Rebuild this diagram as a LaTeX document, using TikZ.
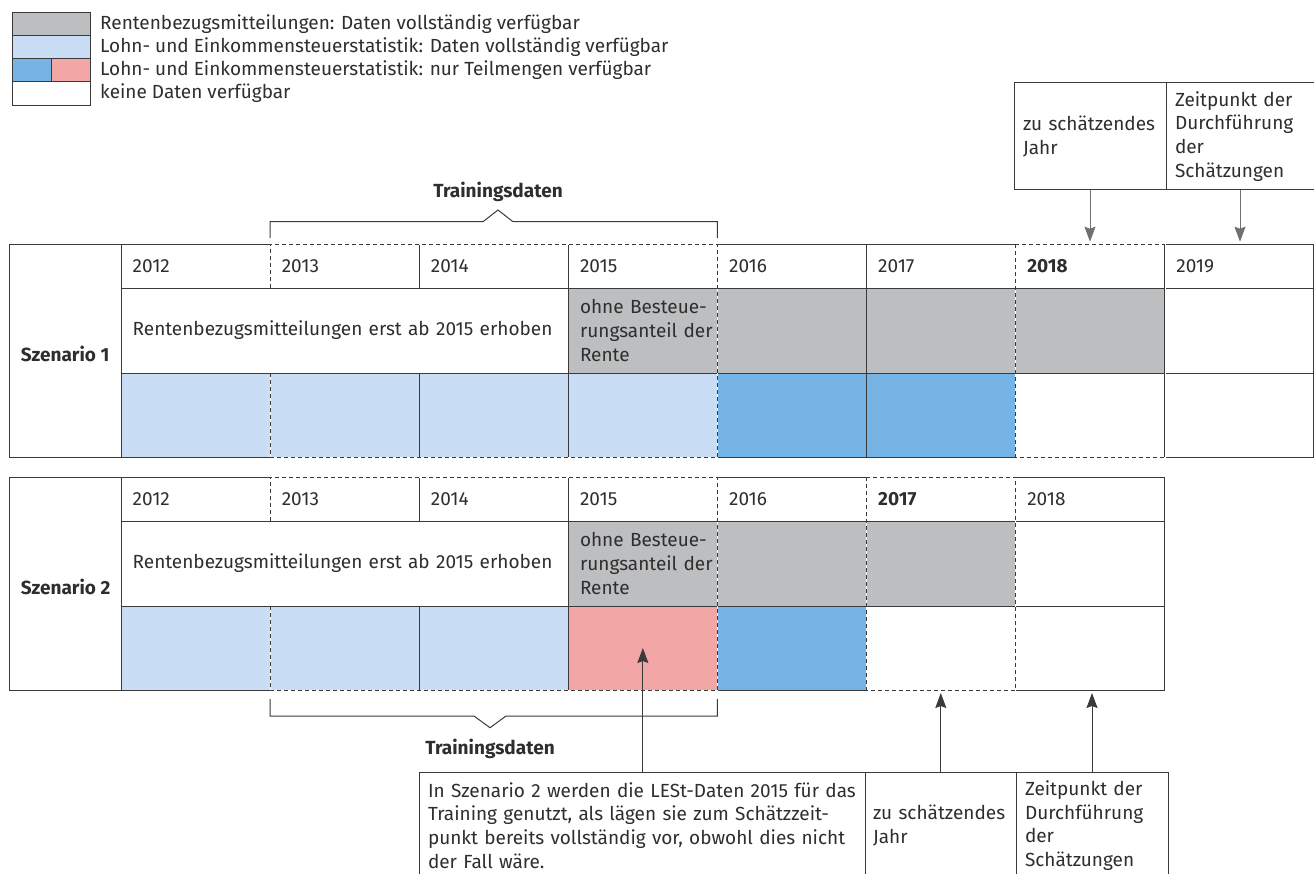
\documentclass[tikz,border=0pt]{standalone}
\usepackage{fontspec}
\setmainfont{Fira Sans}
\usetikzlibrary{arrows.meta,positioning}

\definecolor{linegray}{HTML}{3A3A3A}
\definecolor{arrowgray}{HTML}{707070}
\definecolor{textgray}{HTML}{2E2E2E}
\definecolor{rbmgray}{HTML}{BDBEC0}
\definecolor{lestlight}{HTML}{C9DDF4}
\definecolor{lestblue}{HTML}{76B4E5}
\definecolor{lestred}{HTML}{F2A6A6}

\newcommand{\diagfont}{\fontsize{19}{23.7}\selectfont}

\begin{document}
\begin{tikzpicture}[x=1pt, y=-1pt, >={Stealth[length=15pt,width=11pt,inset=2pt]},
    font=\diagfont, text=textgray,
    box/.style={draw=linegray, line width=1pt, rectangle, inner sep=0pt, outer sep=0pt},
    legbox/.style={box, minimum width=78pt, minimum height=23.25pt},
    legtext/.style={inner sep=0pt, anchor=west},
    boldtext/.style={inner sep=0pt, font=\diagfont\bfseries},
    yearcell/.style={box, minimum width=149.1pt, minimum height=44pt, text width=125.7pt, inner xsep=11.7pt, align=left},
    rowcell/.style={box, minimum width=149.1pt, minimum height=85pt, text width=125.7pt, inner xsep=11.7pt, align=left},
    lestcell/.style={box, minimum width=149.1pt, minimum height=84pt},
    namecell/.style={box, minimum width=112pt, minimum height=213pt, anchor=north west},
    annot/.style={box, minimum height=107pt, align=left},
    dashline/.style={draw=linegray, line width=1pt, dash pattern=on 4pt off 3pt, preaction={draw=white, solid}},
    brace/.style={draw=linegray, line width=1pt}]

  \useasboundingbox (0,0) rectangle (1314,873);

  % legend
  \node[legbox, fill=rbmgray, anchor=north west] (lg1) at (12,12) {};
  \node[legbox, fill=lestlight, below=0pt of lg1] (lg2) {};
  \node[legbox, fill=lestblue, minimum width=39pt, below right=0pt of lg2.south west] (lg3a) {};
  \node[legbox, fill=lestred, minimum width=39pt, right=0pt of lg3a] (lg3b) {};
  \node[legbox, below right=0pt of lg3a.south west] (lg4) {};
  \node[legtext, right=10pt of lg1] (lt1) {Rentenbezugsmitteilungen: Daten vollständig verfügbar};
  \node[legtext, right=10pt of lg2] (lt2) {Lohn- und Einkommensteuerstatistik: Daten vollständig verfügbar};
  \node[legtext, right=10pt of lg3b] (lt3) {Lohn- und Einkommensteuerstatistik: nur Teilmengen verfügbar};
  \node[legtext, right=10pt of lg4] (lt4) {keine Daten verfügbar};

  % Szenario 1
  \node[namecell] (s1lab) at (9,244) {};
  \node[boldtext, anchor=west, right=11.7pt of s1lab.west, yshift=-3pt] (s1name) {Szenario 1};
  \node[yearcell, anchor=north west] (s1y12) at (121,244) {2012};
  \node[yearcell, right=0pt of s1y12] (s1y13) {2013};
  \node[yearcell, right=0pt of s1y13] (s1y14) {2014};
  \node[yearcell, right=0pt of s1y14] (s1y15) {2015};
  \node[yearcell, right=0pt of s1y15] (s1y16) {2016};
  \node[yearcell, right=0pt of s1y16] (s1y17) {2017};
  \node[yearcell, right=0pt of s1y17] (s1y18) {\textbf{2018}};
  \node[yearcell, right=0pt of s1y18] (s1y19) {2019};
  \node[rowcell, minimum width=447.3pt, text width=423.9pt, below right=0pt of s1y12.south west] (s1r12) {Rentenbezugsmitteilungen erst ab 2015 erhoben};
  \node[rowcell, fill=rbmgray, right=0pt of s1r12] (s1r15) {\mbox{ohne Besteue-}\\\mbox{rungsanteil der}\\Rente};
  \node[rowcell, fill=rbmgray, right=0pt of s1r15] (s1r16) {};
  \node[rowcell, fill=rbmgray, right=0pt of s1r16] (s1r17) {};
  \node[rowcell, fill=rbmgray, right=0pt of s1r17] (s1r18) {};
  \node[rowcell, right=0pt of s1r18] (s1r19) {};
  \node[lestcell, fill=lestlight, below right=0pt of s1r12.south west] (s1l12) {};
  \node[lestcell, fill=lestlight, right=0pt of s1l12] (s1l13) {};
  \node[lestcell, fill=lestlight, right=0pt of s1l13] (s1l14) {};
  \node[lestcell, fill=lestlight, right=0pt of s1l14] (s1l15) {};
  \node[lestcell, fill=lestblue, right=0pt of s1l15] (s1l16) {};
  \node[lestcell, fill=lestblue, right=0pt of s1l16] (s1l17) {};
  \node[lestcell, right=0pt of s1l17] (s1l18) {};
  \node[lestcell, right=0pt of s1l18] (s1l19) {};
  \draw[dashline] (s1y13.south west) -- (s1y13.north west) -- (s1y15.north east) -- (s1l15.south east) -- (s1l13.south west) -- (s1l13.north west);
  \draw[dashline] (s1y18.north west) rectangle (s1l18.south east);

  % Szenario 2
  \node[namecell] (s2lab) at (9,477) {};
  \node[boldtext, anchor=west, right=11.7pt of s2lab.west, yshift=-3pt] (s2name) {Szenario 2};
  \node[yearcell, anchor=north west] (s2y12) at (121,477) {2012};
  \node[yearcell, right=0pt of s2y12] (s2y13) {2013};
  \node[yearcell, right=0pt of s2y13] (s2y14) {2014};
  \node[yearcell, right=0pt of s2y14] (s2y15) {2015};
  \node[yearcell, right=0pt of s2y15] (s2y16) {2016};
  \node[yearcell, right=0pt of s2y16] (s2y17) {\textbf{2017}};
  \node[yearcell, right=0pt of s2y17] (s2y18) {2018};
  \node[rowcell, minimum width=447.3pt, text width=423.9pt, below right=0pt of s2y12.south west] (s2r12) {Rentenbezugsmitteilungen erst ab 2015 erhoben};
  \node[rowcell, fill=rbmgray, right=0pt of s2r12] (s2r15) {\mbox{ohne Besteue-}\\\mbox{rungsanteil der}\\Rente};
  \node[rowcell, fill=rbmgray, right=0pt of s2r15] (s2r16) {};
  \node[rowcell, fill=rbmgray, right=0pt of s2r16] (s2r17) {};
  \node[rowcell, right=0pt of s2r17] (s2r18) {};
  \node[lestcell, fill=lestlight, below right=0pt of s2r12.south west] (s2l12) {};
  \node[lestcell, fill=lestlight, right=0pt of s2l12] (s2l13) {};
  \node[lestcell, fill=lestlight, right=0pt of s2l13] (s2l14) {};
  \node[lestcell, fill=lestred, right=0pt of s2l14] (s2l15) {};
  \node[lestcell, fill=lestblue, right=0pt of s2l15] (s2l16) {};
  \node[lestcell, right=0pt of s2l16] (s2l17) {};
  \node[lestcell, right=0pt of s2l17] (s2l18) {};
  \draw[dashline] (s2y13.south west) -- (s2y13.north west) -- (s2y15.north east) -- (s2l15.south east) -- (s2l13.south west) -- (s2l13.north west);
  \draw[dashline] (s2y17.north west) rectangle (s2l17.south east);

  % Trainingsdaten
  \draw[brace] ([yshift=6pt]s1y13.north west) |- (483,221.7) -- (498,210) -- (513,221.7) -| ([yshift=6pt]s1y15.north east);
  \node[boldtext] (train1) at (498,192) {Trainingsdaten};
  \draw[brace] ([yshift=-9pt]s2l13.south west) |- (474,716) -- (490,727.7) -- (506,716) -| ([yshift=-9pt]s2l15.south east);
  \node[boldtext] (train2) at (490,749) {Trainingsdaten};

  % Hinweise oben
  \node[annot, minimum width=152pt, text width=134pt, inner xsep=9pt, anchor=north west] (top1) at (1014,82.7) {zu schätzendes\\Jahr};
  \node[annot, minimum width=148pt, text width=130pt, inner xsep=9pt, right=0pt of top1] (top2) {Zeitpunkt der\\Durchführung\\der\\Schätzungen};
  \draw[->, draw=arrowgray, fill=arrowgray, line width=1pt, shorten >=2.3pt] (top1.south) -- (top1.south |- s1y18.north);
  \draw[->, draw=arrowgray, fill=arrowgray, line width=1pt, shorten >=2.3pt] (top2.south) -- (top2.south |- s1y19.north);

  % Hinweise unten
  \node[annot, minimum width=446.3pt, text width=428.9pt, inner xsep=8.7pt, anchor=north west] (bot1) at (419.3,772) {In Szenario 2 werden die LESt-Daten 2015 für das\\Training genutzt, als lägen sie zum Schätzzeit-\\punkt bereits vollständig vor, obwohl dies nicht\\der Fall wäre.};
  \node[annot, minimum width=150.4pt, text width=135.4pt, inner xsep=7.5pt, right=0pt of bot1] (bot2) {zu schätzendes\\Jahr};
  \node[annot, minimum width=152pt, text width=134pt, inner xsep=9pt, right=0pt of bot2] (bot3) {Zeitpunkt der\\Durchführung\\der\\Schätzungen};
  \draw[->, draw=linegray, fill=linegray, line width=1pt] (s2l15.center |- bot1.north) -- (s2l15.center);
  \draw[->, draw=linegray, fill=linegray, line width=1pt, shorten >=3pt] (bot2.north) -- (bot2.north |- s2l17.south);
  \draw[->, draw=linegray, fill=linegray, line width=1pt, shorten >=3pt] (bot3.north) -- (bot3.north |- s2l18.south);
\end{tikzpicture}
\end{document}
